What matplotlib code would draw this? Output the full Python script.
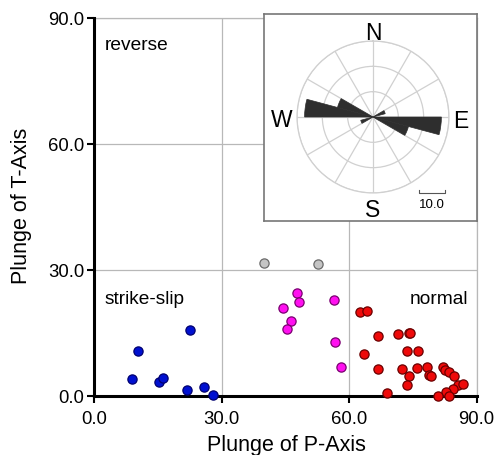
import numpy as np
import matplotlib
matplotlib.use("Agg")
import matplotlib.pyplot as plt

plt.rcParams["font.family"] = ["Liberation Sans", "DejaVu Sans"]

# plunge of P-axis / T-axis per regime
blue_p = [22.6, 10.4, 9.0, 15.3, 16.3, 21.9, 25.8, 28.0]
blue_t = [15.6, 10.6, 4.0, 3.3, 4.2, 1.3, 2.1, 0.2]
magenta_p = [47.8, 48.2, 44.4, 46.4, 45.5, 56.4, 56.7, 58.0]
magenta_t = [24.4, 22.4, 20.9, 17.9, 15.9, 22.9, 12.7, 6.8]
gray_p = [39.9, 52.7]
gray_t = [31.6, 31.3]
red_p = [62.5, 64.1, 66.7, 71.4, 74.1, 74.4, 63.5, 73.7, 76.2, 66.9, 72.4, 76.0, 78.4,
         74.1, 78.8, 79.3, 82.1, 82.6, 83.6, 84.7, 73.6, 85.5, 86.8, 84.4, 68.8, 82.9,
         80.8, 83.6]
red_t = [19.9, 20.2, 14.1, 14.7, 14.9, 14.9, 9.9, 10.7, 10.7, 6.3, 6.4, 6.6, 6.8,
         4.6, 4.9, 4.8, 6.8, 6.1, 5.7, 4.8, 2.6, 2.6, 2.8, 1.6, 0.6, 0.8,
         0.0, 0.0]

# rose diagram (bidirectional strike, 15 deg bins)
rose_start = [60, 90, 105, 240, 270, 285]
rose_count = [5.0, 27.0, 14.5, 5.0, 27.0, 14.5]

ticks = [0, 30, 60, 90]
tick_labels = ["0.0", "30.0", "60.0", "90.0"]

fig = plt.figure(figsize=(4.95, 4.56), dpi=100)
ax = fig.add_axes([0.19, 0.130, 0.773, 0.829])

ax.set_xlim(0, 90)
ax.set_ylim(0, 90)
ax.set_xticks(ticks)
ax.set_yticks(ticks)
ax.set_xticklabels(tick_labels, fontsize=13.3)
ax.set_yticklabels(tick_labels, fontsize=13.3)
ax.tick_params(direction="out", length=5, width=1.5)
ax.tick_params(axis="x", pad=5)
ax.tick_params(axis="y", pad=2)
ax.grid(True, color="#b8b8b8", lw=0.9)
ax.axhline(90, color="#b8b8b8", lw=0.9, clip_on=False, zorder=0.5)
ax.axvline(90, color="#b8b8b8", lw=0.9, clip_on=False, zorder=0.5)
ax.set_axisbelow(True)
for side in ["top", "right"]:
    ax.spines[side].set_visible(False)
for side in ["left", "bottom"]:
    ax.spines[side].set_linewidth(2.2)
ax.set_xlabel("Plunge of P-Axis", fontsize=15.5)
ax.set_ylabel("Plunge of T-Axis", fontsize=15.5)
ax.xaxis.set_label_coords(0.504, -0.102)
ax.yaxis.set_label_coords(-0.162, 0.505)

kw = dict(s=44, linewidths=0.9, zorder=3, clip_on=False)
ax.scatter(gray_p, gray_t, c="#c4c4c4", edgecolors="#6a6a6a", **kw)
ax.scatter(blue_p, blue_t, c="#0010d0", edgecolors="#000070", **kw)
ax.scatter(magenta_p, magenta_t, c="#ff10f0", edgecolors="#7a0070", **kw)
ax.scatter(red_p, red_t, c="#ee0a0a", edgecolors="#6a0000", **kw)

ax.text(2.5, 83.5, "reverse", fontsize=13.8, va="center", ha="left")
ax.text(2.5, 23.2, "strike-slip", fontsize=13.8, va="center", ha="left")
ax.text(88, 23.2, "normal", fontsize=13.8, va="center", ha="right")

# inset frame
box = fig.add_axes([0.5333, 0.5138, 0.4303, 0.454])
box.set_xticks([])
box.set_yticks([])
box.set_xlim(0, 1)
box.set_ylim(0, 1)
for sp in box.spines.values():
    sp.set_color("#777777")
    sp.set_linewidth(1.2)
box.text(0.512, 0.91, "N", fontsize=16.5, ha="center", va="center")
box.text(0.512, 0.055, "S", fontsize=16.5, ha="center", va="center")
box.text(0.083, 0.49, "W", fontsize=16.5, ha="center", va="center")
box.text(0.925, 0.485, "E", fontsize=16.5, ha="center", va="center")
box.plot([0.73, 0.73, 0.852, 0.852], [0.15, 0.135, 0.135, 0.15], color="#555555", lw=0.8)
box.text(0.79, 0.083, "10.0", fontsize=9.5, ha="center", va="center")

rose = fig.add_axes([0.6, 0.5746, 0.307, 0.3333], projection="polar")
rose.set_theta_zero_location("N")
rose.set_theta_direction(-1)
rose.set_ylim(0, 30)
rose.set_yticks([10, 20, 30])
rose.set_yticklabels([])
rose.set_xticks(np.radians(np.arange(0, 360, 30)))
rose.set_xticklabels([])
rose.grid(True, color="#d0d0d0", lw=0.9)
rose.spines["polar"].set_color("#d0d0d0")
rose.spines["polar"].set_linewidth(0.9)
rose.patch.set_alpha(0)
theta = np.radians(np.array(rose_start) + 7.5)
rose.bar(theta, rose_count, width=np.radians(15), color="#2e2e2e",
         edgecolor="#2e2e2e", lw=0.5, zorder=3)

fig.savefig("out.png", dpi=100)
